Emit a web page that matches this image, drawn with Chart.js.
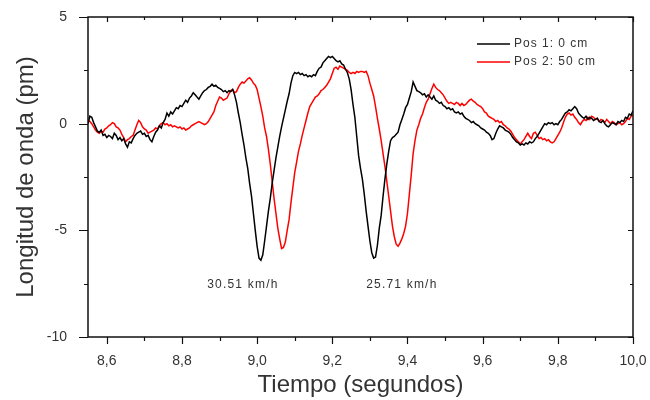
<html>
<head>
    <title>Longitud de onda</title>
    <script src="https://cdn.jsdelivr.net/npm/chart.js"></script>
    <style>
        body { margin: 0; background: #fff; }
    </style>
</head>
<body>
    <canvas id="chart" width="650" height="400"></canvas>
</body>
<script>
    // tiempo (s), paso 0.005
    const tiempo = [
        8.550, 8.555, 8.560, 8.565, 8.570, 8.575, 8.580, 8.585, 8.590, 8.595,
        8.600, 8.605, 8.610, 8.615, 8.620, 8.625, 8.630, 8.635, 8.640, 8.645,
        8.650, 8.655, 8.660, 8.665, 8.670, 8.675, 8.680, 8.685, 8.690, 8.695,
        8.700, 8.705, 8.710, 8.715, 8.720, 8.725, 8.730, 8.735, 8.740, 8.745,
        8.750, 8.755, 8.760, 8.765, 8.770, 8.775, 8.780, 8.785, 8.790, 8.795,
        8.800, 8.805, 8.810, 8.815, 8.820, 8.825, 8.830, 8.835, 8.840, 8.845,
        8.850, 8.855, 8.860, 8.865, 8.870, 8.875, 8.880, 8.885, 8.890, 8.895,
        8.900, 8.905, 8.910, 8.915, 8.920, 8.925, 8.930, 8.935, 8.940, 8.945,
        8.950, 8.955, 8.960, 8.965, 8.970, 8.975, 8.980, 8.985, 8.990, 8.995,
        9.000, 9.005, 9.010, 9.015, 9.020, 9.025, 9.030, 9.035, 9.040, 9.045,
        9.050, 9.055, 9.060, 9.065, 9.070, 9.075, 9.080, 9.085, 9.090, 9.095,
        9.100, 9.105, 9.110, 9.115, 9.120, 9.125, 9.130, 9.135, 9.140, 9.145,
        9.150, 9.155, 9.160, 9.165, 9.170, 9.175, 9.180, 9.185, 9.190, 9.195,
        9.200, 9.205, 9.210, 9.215, 9.220, 9.225, 9.230, 9.235, 9.240, 9.245,
        9.250, 9.255, 9.260, 9.265, 9.270, 9.275, 9.280, 9.285, 9.290, 9.295,
        9.300, 9.305, 9.310, 9.315, 9.320, 9.325, 9.330, 9.335, 9.340, 9.345,
        9.350, 9.355, 9.360, 9.365, 9.370, 9.375, 9.380, 9.385, 9.390, 9.395,
        9.400, 9.405, 9.410, 9.415, 9.420, 9.425, 9.430, 9.435, 9.440, 9.445,
        9.450, 9.455, 9.460, 9.465, 9.470, 9.475, 9.480, 9.485, 9.490, 9.495,
        9.500, 9.505, 9.510, 9.515, 9.520, 9.525, 9.530, 9.535, 9.540, 9.545,
        9.550, 9.555, 9.560, 9.565, 9.570, 9.575, 9.580, 9.585, 9.590, 9.595,
        9.600, 9.605, 9.610, 9.615, 9.620, 9.625, 9.630, 9.635, 9.640, 9.645,
        9.650, 9.655, 9.660, 9.665, 9.670, 9.675, 9.680, 9.685, 9.690, 9.695,
        9.700, 9.705, 9.710, 9.715, 9.720, 9.725, 9.730, 9.735, 9.740, 9.745,
        9.750, 9.755, 9.760, 9.765, 9.770, 9.775, 9.780, 9.785, 9.790, 9.795,
        9.800, 9.805, 9.810, 9.815, 9.820, 9.825, 9.830, 9.835, 9.840, 9.845,
        9.850, 9.855, 9.860, 9.865, 9.870, 9.875, 9.880, 9.885, 9.890, 9.895,
        9.900, 9.905, 9.910, 9.915, 9.920, 9.925, 9.930, 9.935, 9.940, 9.945,
        9.950, 9.955, 9.960, 9.965, 9.970, 9.975, 9.980, 9.985, 9.990, 9.995,
        10.000
    ];

    // Pos 1: 0 cm (pm)
    const pos1 = [
        0.00, 0.35, 0.30, 0.05, -0.15, -0.35, -0.40, -0.30, -0.55, -0.50,
        -0.65, -0.55, -0.60, -0.70, -0.45, -0.55, -0.75, -0.65, -0.80, -0.70,
        -0.95, -1.10, -0.85, -0.90, -0.70, -0.55, -0.45, -0.40, -0.35, -0.50,
        -0.45, -0.60, -0.55, -0.75, -0.85, -0.60, -0.40, -0.30, -0.10, -0.20,
        0.05, 0.20, 0.50, 0.35, 0.55, 0.45, 0.60, 0.75, 0.70, 0.85,
        0.80, 0.95, 1.10, 1.00, 1.20, 1.30, 1.45, 1.35, 1.25, 1.15,
        1.30, 1.45, 1.55, 1.60, 1.70, 1.75, 1.85, 1.75, 1.80, 1.70,
        1.65, 1.60, 1.50, 1.55, 1.45, 1.55, 1.50, 1.60, 1.35, 1.00,
        0.50, 0.05, -0.50, -1.00, -1.60, -2.10, -2.80, -3.40, -4.20, -5.00,
        -5.75, -6.30, -6.40, -6.15, -5.50, -4.80, -4.10, -3.50, -2.80, -2.20,
        -1.60, -1.10, -0.60, -0.15, 0.25, 0.65, 1.05, 1.40, 1.90, 2.25,
        2.40, 2.35, 2.40, 2.30, 2.35, 2.25, 2.30, 2.20, 2.25, 2.20,
        2.30, 2.25, 2.45, 2.60, 2.65, 2.85, 2.95, 3.05, 3.15, 3.10,
        3.15, 3.05, 2.95, 2.90, 2.95, 2.80, 2.75, 2.55, 2.40, 2.10,
        1.60, 0.90, 0.30, -0.60, -1.50, -2.10, -2.60, -3.30, -4.10, -4.80,
        -5.50, -6.05, -6.30, -6.25, -5.70, -4.90, -4.30, -3.40, -2.60, -1.90,
        -1.30, -0.80, -0.65, -0.60, -0.50, -0.40, -0.05, 0.20, 0.45, 0.75,
        0.90, 1.20, 1.50, 1.95, 1.75, 1.55, 1.50, 1.45, 1.35, 1.40,
        1.25, 1.35, 1.25, 1.15, 1.30, 1.10, 1.05, 0.95, 1.00, 0.85,
        0.80, 0.70, 0.75, 0.65, 0.70, 0.55, 0.50, 0.55, 0.45, 0.50,
        0.35, 0.25, 0.20, 0.15, 0.05, 0.10, 0.00, -0.05, -0.10, -0.20,
        -0.25, -0.30, -0.40, -0.45, -0.55, -0.75, -0.70, -0.45, -0.25, -0.10,
        -0.15, -0.20, -0.30, -0.35, -0.40, -0.50, -0.65, -0.75, -0.85, -0.90,
        -1.00, -0.95, -1.00, -0.90, -0.95, -0.85, -0.90, -0.85, -0.70, -0.60,
        -0.45, -0.30, -0.15, 0.00, -0.05, 0.05, 0.00, 0.05, -0.05, 0.00,
        -0.05, 0.10, 0.20, 0.35, 0.50, 0.55, 0.65, 0.60, 0.70, 0.80,
        0.70, 0.50, 0.40, 0.30, 0.25, 0.35, 0.20, 0.30, 0.25, 0.15,
        0.20, 0.25, 0.10, 0.05, 0.15, 0.00, -0.10, -0.15, -0.05, 0.05,
        0.00, -0.05, 0.10, 0.05, 0.15, 0.10, 0.30, 0.25, 0.45, 0.40,
        0.60
    ];

    // Pos 2: 50 cm (pm)
    const pos2 = [
        0.20, 0.10, 0.00, -0.15, -0.30, -0.40, -0.45, -0.35, -0.40, -0.25,
        -0.20, -0.10, -0.05, 0.05, 0.00, -0.15, -0.20, -0.30, -0.50, -0.65,
        -0.85, -0.75, -0.70, -0.60, -0.55, -0.30, -0.05, 0.15, 0.05, -0.15,
        -0.25, -0.30, -0.45, -0.40, -0.35, -0.30, -0.20, -0.25, -0.10, 0.00,
        0.05, -0.05, 0.00, -0.10, -0.05, -0.15, -0.10, -0.15, -0.20, -0.15,
        -0.25, -0.20, -0.30, -0.25, -0.20, -0.10, -0.05, 0.00, 0.05, 0.10,
        0.05, 0.00, -0.05, 0.00, 0.10, 0.25, 0.40, 0.55, 0.85, 1.05,
        1.25, 1.20, 1.10, 1.15, 1.20, 1.40, 1.55, 1.60, 1.45, 1.50,
        1.70, 1.85, 1.95, 1.90, 2.00, 2.10, 2.15, 2.05, 1.90, 1.80,
        1.60, 1.20, 0.80, 0.35, -0.20, -0.60, -1.20, -1.90, -2.70, -3.50,
        -4.20, -4.90, -5.40, -5.85, -5.80, -5.55, -5.00, -4.50, -3.70, -3.00,
        -2.30, -1.80, -1.30, -0.95, -0.55, -0.20, 0.15, 0.50, 0.80, 0.95,
        1.10, 1.25, 1.30, 1.40, 1.55, 1.60, 1.70, 1.80, 1.95, 2.10,
        2.35, 2.60, 2.65, 2.55, 2.70, 2.65, 2.60, 2.55, 2.50, 2.40,
        2.35, 2.40, 2.35, 2.45, 2.40, 2.45, 2.45, 2.40, 2.45, 2.25,
        1.90, 1.60, 1.30, 0.80, 0.25, -0.25, -0.80, -1.40, -2.00, -2.70,
        -3.40, -4.10, -4.80, -5.30, -5.65, -5.75, -5.60, -5.40, -5.15, -4.80,
        -4.20, -3.30, -2.40, -1.40, -0.80, -0.30, -0.05, 0.25, 0.45, 0.75,
        1.00, 1.15, 1.40, 1.65, 1.85, 1.70, 1.60, 1.55, 1.45, 1.35,
        1.20, 1.05, 0.95, 1.00, 0.95, 0.90, 1.00, 0.95, 0.85, 0.95,
        0.85, 0.90, 1.00, 1.10, 1.15, 1.05, 1.00, 0.90, 0.85, 0.80,
        0.70, 0.55, 0.50, 0.35, 0.30, 0.25, 0.20, 0.10, 0.15, 0.05,
        0.10, -0.05, -0.10, -0.20, -0.25, -0.35, -0.50, -0.65, -0.75, -0.85,
        -0.95, -0.85, -0.75, -0.60, -0.45, -0.60, -0.70, -0.45, -0.40, -0.55,
        -0.70, -0.65, -0.75, -0.70, -0.80, -0.75, -0.85, -0.90, -0.85, -0.70,
        -0.55, -0.40, -0.20, 0.05, 0.30, 0.45, 0.50, 0.40, 0.45, 0.30,
        0.20, 0.05, -0.05, 0.10, 0.20, 0.15, 0.30, 0.20, 0.35, 0.30,
        0.20, 0.25, 0.10, 0.20, 0.15, 0.05, 0.20, 0.10, 0.00, 0.10,
        0.05, -0.05, 0.00, 0.05, -0.05, 0.00, 0.10, 0.25, 0.20, 0.35,
        0.40
    ];

    const seriesNames = ['Pos 1: 0 cm', 'Pos 2: 50 cm'];
    const seriesColors = ['#000000', '#ff0000'];

    // velocidades anotadas bajo cada pico
    const speedLabels = ['30.51 km/h', '25.71 km/h'];
    const speedAt = [[8.962, -7.55], [9.385, -7.55]];

    const yMajor = [5, 0, -5, -10];

    const font = "'Liberation Sans', Arial, sans-serif";
    const textColor = '#333';

    const toPoints = (ys) => ys.map((y, i) => ({ x: tiempo[i], y }));

    // marco, marcas de ejes, leyenda y anotaciones
    const framePlugin = {
        id: 'frame',
        afterDatasetsDraw(chart) {
            const { ctx, chartArea: a, scales: { x, y } } = chart;
            ctx.save();
            ctx.strokeStyle = '#111';
            ctx.lineWidth = 1.5;
            ctx.strokeRect(a.left, a.top, a.right - a.left, a.bottom - a.top);

            ctx.lineWidth = 1.2;
            ctx.beginPath();
            x.ticks.forEach(t => {
                const px = Math.round(x.getPixelForValue(t.value)) + 0.5;
                const major = t.label !== '';
                ctx.moveTo(px, a.bottom);
                ctx.lineTo(px, a.bottom + (major ? 7 : 4));
                ctx.moveTo(px, a.top);
                ctx.lineTo(px, a.top + (major ? 5 : 3));
            });
            y.ticks.forEach(t => {
                const py = Math.round(y.getPixelForValue(t.value)) + 0.5;
                const major = t.label !== '';
                ctx.moveTo(a.left, py);
                ctx.lineTo(a.left - (major ? 9 : 4), py);
                ctx.moveTo(a.right, py);
                ctx.lineTo(a.right - (major ? 5 : 3), py);
            });
            ctx.stroke();

            // leyenda
            ctx.font = `12px ${font}`;
            ctx.letterSpacing = '1px';
            ctx.textBaseline = 'middle';
            ctx.textAlign = 'left';
            chart.data.datasets.forEach((ds, i) => {
                const ly = a.top + 27 + i * 18;
                const lx = a.right - 156;
                ctx.strokeStyle = ds.borderColor;
                ctx.lineWidth = 1.5;
                ctx.beginPath();
                ctx.moveTo(lx, ly);
                ctx.lineTo(lx + 33, ly);
                ctx.stroke();
                ctx.fillStyle = textColor;
                ctx.fillText(ds.label, lx + 37, ly);
            });

            // anotaciones de velocidad
            ctx.textAlign = 'center';
            ctx.letterSpacing = '1.2px';
            speedLabels.forEach((s, i) => {
                ctx.fillText(s, x.getPixelForValue(speedAt[i][0]), y.getPixelForValue(speedAt[i][1]));
            });
            ctx.restore();
        }
    };

    new Chart(document.getElementById('chart'), {
        type: 'line',
        data: {
            datasets: seriesNames.map((name, i) => ({
                label: name,
                data: toPoints(i === 0 ? pos1 : pos2),
                borderColor: seriesColors[i],
                borderWidth: 1.5,
                pointRadius: 0,
                tension: 0,
                fill: false
            }))
        },
        options: {
            responsive: false,
            animation: false,
            layout: { padding: { top: 17, right: 17, bottom: 0, left: 0 } },
            plugins: {
                legend: { display: false },
                tooltip: { enabled: false }
            },
            scales: {
                x: {
                    type: 'linear',
                    min: 8.55,
                    max: 10.0,
                    afterFit: (s) => {
                        s.height = 63;
                        s.paddingLeft = 0;
                        s.paddingRight = 0;
                    },
                    grid: { display: false },
                    border: { display: false },
                    ticks: {
                        stepSize: 0.1,
                        includeBounds: false,
                        autoSkip: false,
                        maxRotation: 0,
                        padding: 8,
                        color: textColor,
                        font: { family: font, size: 14 },
                        callback: (v) => Math.round(v * 10) % 2 === 0 ? v.toFixed(1).replace('.', ',') : ''
                    },
                    title: {
                        display: true,
                        text: 'Tiempo (segundos)',
                        color: textColor,
                        padding: { top: 0, bottom: 0 },
                        font: { family: font, size: 24, lineHeight: 1.2 }
                    }
                },
                y: {
                    min: -10,
                    max: 5,
                    afterFit: (s) => {
                        s.width = 88;
                        s.paddingTop = 0;
                        s.paddingBottom = 0;
                    },
                    grid: { display: false },
                    border: { display: false },
                    ticks: {
                        stepSize: 2.5,
                        autoSkip: false,
                        padding: 13,
                        color: textColor,
                        font: { family: font, size: 14 },
                        callback: (v) => yMajor.includes(v) ? String(v) : ''
                    },
                    title: {
                        display: true,
                        text: 'Longitud de onda (pm)',
                        color: textColor,
                        padding: { top: 12, bottom: 0 },
                        font: { family: font, size: 24, lineHeight: 1.2 }
                    }
                }
            }
        },
        plugins: [framePlugin]
    });
</script>
</html>
